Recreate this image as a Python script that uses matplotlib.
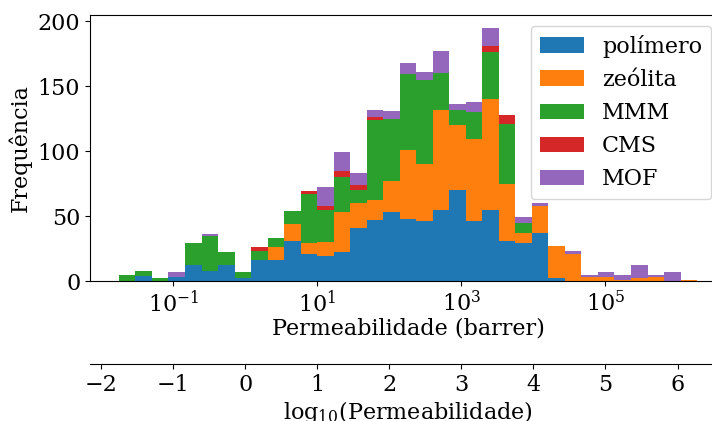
import numpy as np
import matplotlib
matplotlib.use("Agg")
import matplotlib.pyplot as plt

plt.rcParams["font.family"] = ["DejaVu Serif"]
plt.rcParams["mathtext.fontset"] = "dejavuserif"
plt.rcParams["font.size"] = 16

# Histogram bins (log10 of permeability in barrer)
LOG_MIN = -1.757
LOG_MAX = 6.272
N_BINS = 35

labels = ["polímero", "zeólita", "MMM", "CMS", "MOF"]

# Counts per bin for each material class
polimero = [0, 4, 0, 3, 12, 8, 12, 2, 16, 16, 31, 21, 19, 22, 41, 47, 53, 48,
            46, 55, 70, 46, 55, 31, 29, 37, 2, 0, 0, 0, 0, 0, 0, 0, 0]
zeolita = [0, 0, 0, 0, 0, 0, 0, 0, 0, 10, 13, 8, 11, 31, 19, 15, 24, 53,
           44, 77, 50, 63, 85, 44, 8, 21, 25, 21, 3, 3, 1, 2, 3, 0, 1]
mmm = [5, 4, 2, 0, 17, 27, 10, 5, 7, 7, 10, 38, 25, 27, 10, 62, 48, 58,
       65, 28, 12, 21, 36, 46, 8, 0, 0, 0, 0, 0, 0, 0, 0, 0, 0]
cms = [0, 0, 0, 0, 0, 0, 0, 0, 3, 0, 0, 2, 3, 5, 4, 2, 0, 0,
       0, 0, 0, 0, 5, 7, 0, 0, 0, 0, 0, 0, 0, 0, 0, 0, 0]
mof = [0, 0, 0, 4, 0, 1, 0, 0, 0, 0, 0, 0, 14, 14, 9, 6, 6, 9,
       6, 17, 4, 8, 14, 0, 4, 2, 0, 2, 2, 4, 4, 10, 2, 7, 0]

x_ticks = [1e-1, 1e1, 1e3, 1e5]
log_ticks = [-2, -1, 0, 1, 2, 3, 4, 5, 6]

edges = np.logspace(LOG_MIN, LOG_MAX, N_BINS + 1)
centers = np.sqrt(edges[:-1] * edges[1:])
counts = [polimero, zeolita, mmm, cms, mof]

fig = plt.figure(figsize=(7.12, 4.21), dpi=100)
ax = fig.add_axes([90 / 712, 140 / 421, 636 / 712, 266 / 421])

ax.hist([centers] * len(counts), bins=edges, weights=counts, stacked=True,
        label=labels, color=["C0", "C1", "C2", "C3", "C4"])
ax.set_xscale("log")
ax.set_xticks(x_ticks)
ax.xaxis.set_minor_locator(matplotlib.ticker.NullLocator())
ax.set_xlabel("Permeabilidade (barrer)", labelpad=0.5)
ax.set_ylabel("Frequência")
ax.set_yticks([0, 50, 100, 150, 200])

# Linear log10 axis below the main one, sharing the same extent
ax_log = ax.twiny()
ax_log.set_xlim(np.log10(ax.get_xlim()))
ax_log.xaxis.set_ticks_position("bottom")
ax_log.xaxis.set_label_position("bottom")
ax_log.spines["bottom"].set_position(("axes", -0.313))
for side in ("top", "left", "right"):
    ax_log.spines[side].set_visible(False)
ax_log.set_xticks(log_ticks)
ax_log.set_xlabel(r"log$_{10}$(Permeabilidade)", labelpad=2.5)

ax.legend(loc="upper right", bbox_to_anchor=(711 / 712, 395 / 421),
          bbox_transform=fig.transFigure, borderaxespad=0)

fig.savefig("out.png", dpi=100)
